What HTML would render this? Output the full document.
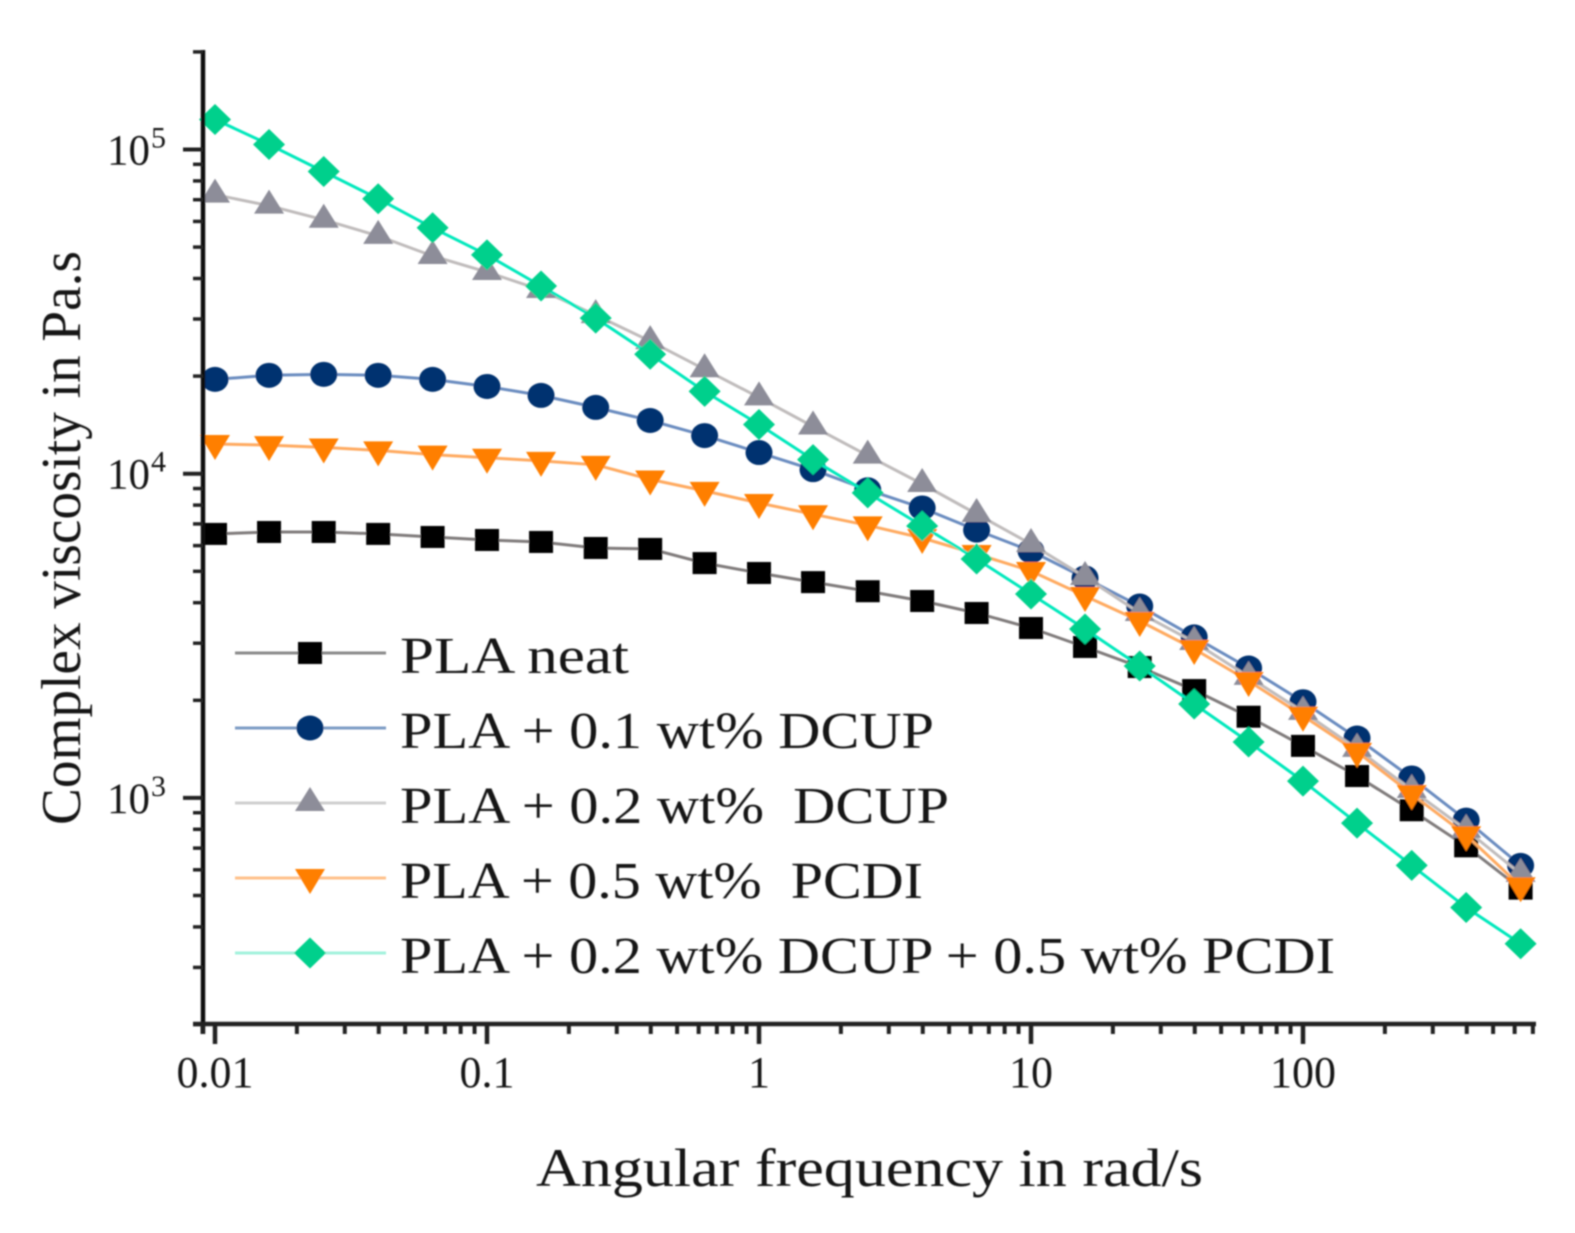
<!DOCTYPE html>
<html lang="en">
<head>
<meta charset="utf-8">
<title>Complex viscosity vs angular frequency</title>
<style>
html,body{margin:0;padding:0;background:#fff;}
svg{display:block;}
text{font-family:"Liberation Serif",serif;fill:#161616;}
</style>
</head>
<body>
<svg id="chart" xmlns="http://www.w3.org/2000/svg" width="1575" height="1233" viewBox="0 0 1575 1233">
  <defs>
    <filter id="soft" x="-2%" y="-2%" width="104%" height="104%"><feGaussianBlur stdDeviation="0.9"/></filter>
  </defs>
  <rect width="1575" height="1233" fill="#fff"/>
  <g id="root" filter="url(#soft)">
    <g id="series-layer"></g>
    <g id="axes-layer"></g>
    <text transform="translate(80,825) rotate(-90)" font-size="56" textLength="574" lengthAdjust="spacingAndGlyphs">Complex viscosity in Pa.s</text>
    <text x="536" y="1186" font-size="54" textLength="667" lengthAdjust="spacingAndGlyphs">Angular frequency in rad/s</text>
    <g id="legend-layer"></g>
  </g>
</svg>
<script>
const frequencies = [0.01,0.0158,0.0251,0.0398,0.0631,0.1,0.158,0.251,0.398,0.631,1,1.58,2.51,3.98,6.31,10,15.8,25.1,39.8,63.1,100,158,251,398,631];
const plaNeat = [6520,6610,6610,6520,6380,6245,6158,5900,5860,5300,4940,4630,4340,4049,3718,3342,2921,2533,2151,1780,1447,1168,916,709,525];
const dcup01 = [19540,20110,20250,20110,19540,18580,17440,16010,14590,13110,11620,10290,8920,7840,6700,5775,4768,3906,3137,2516,1980,1530,1152,854,619];
const dcup02 = [72560,67100,60700,54150,46950,41900,36860,30840,25630,20990,17190,13980,11370,9295,7510,6070,4800,3718,3027,2363,1843,1417,1058,797,583];
const pcdi05 = [12350,12250,12050,11800,11450,11200,10950,10650,9600,8850,8120,7500,6930,6334,5652,5010,4195,3513,2879,2294,1792,1387,1027,767,534];
const dcupPcdi = [123800,103600,85500,70500,57350,47300,37930,30200,23350,17940,14180,11050,8730,6900,5457,4256,3319,2552,1948,1488,1127,836,619,459,355];
const seriesLabels = ["PLA neat","PLA + 0.1 wt% DCUP","PLA + 0.2 wt%  DCUP","PLA + 0.5 wt%  PCDI","PLA + 0.2 wt% DCUP + 0.5 wt% PCDI"];
const xTickValues = [0.01,0.1,1,10,100];
const xTickLabels = ["0.01","0.1","1","10","100"];
const yTickExponents = [3,4,5];

const NS = "http://www.w3.org/2000/svg";
const X0 = 215, X_DECADE = 272;
const Y5 = 149.5, Y_DECADE = 324.2;
const AX_L = 203, AX_R = 1536, AX_T = 52, AX_B = 1024;
function xScale(v){ return X0 + (Math.log10(v) + 2) * X_DECADE; }
function yScale(v){ return Y5 + (5 - Math.log10(v)) * Y_DECADE; }
function mk(tag, parent, attrs){
  const e = document.createElementNS(NS, tag);
  for (const k in attrs) e.setAttribute(k, attrs[k]);
  parent.appendChild(e);
  return e;
}
function markerShape(kind, parent, cx, cy, fill){
  if (kind === "square") return mk("rect", parent, {x:cx-12, y:cy-11, width:24, height:22, fill});
  if (kind === "circle") return mk("ellipse", parent, {cx, cy, rx:13.5, ry:12.5, fill});
  if (kind === "up") return mk("polygon", parent, {points:`${cx},${cy-16} ${cx+15},${cy+8} ${cx-15},${cy+8}`, fill});
  if (kind === "down") return mk("polygon", parent, {points:`${cx-15},${cy-9} ${cx+15},${cy-9} ${cx},${cy+16}`, fill});
  return mk("polygon", parent, {points:`${cx},${cy-15.5} ${cx+16},${cy} ${cx},${cy+15.5} ${cx-16},${cy}`, fill});
}
const styles = [
  {key:"pla-neat", values:plaNeat, kind:"square", fill:"#000000", line:"#807c7c", legendLine:"#8a8a8a"},
  {key:"dcup-01", values:dcup01, kind:"circle", fill:"#00306f", line:"#6a8cc0", legendLine:"#7d9bc4"},
  {key:"dcup-02", values:dcup02, kind:"up", fill:"#8d8d99", line:"#c0bcbc", legendLine:"#cfcfcf"},
  {key:"pcdi-05", values:pcdi05, kind:"down", fill:"#ff7f00", line:"#ffaa60", legendLine:"#ffc18a"},
  {key:"dcup-pcdi", values:dcupPcdi, kind:"diamond", fill:"#00d08c", line:"#00e8bc", legendLine:"#a0f2dc"}
];

const seriesLayer = document.getElementById("series-layer");
styles.forEach(function(s){
  const g = mk("g", seriesLayer, {});
  
  
  const pts = s.values.map(function(v,i){ return xScale(frequencies[i]).toFixed(1) + "," + yScale(v).toFixed(1); }).join(" ");
  const line = mk("polyline", g, {points:pts, fill:"none", stroke:s.line, "stroke-width":3});
  
  
});
styles.forEach(function(s,idx){
  const g = seriesLayer.children[idx];
  s.values.forEach(function(v,i){
    const m = markerShape(s.kind, g, xScale(frequencies[i]), yScale(v), s.fill);
    
    
  });
});

const axes = document.getElementById("axes-layer");
const yAxisLine = mk("line", axes, {x1:AX_L, x2:AX_L, y1:AX_T-2, y2:AX_B+10, stroke:"#111", "stroke-width":4.5});


const xAxisLine = mk("line", axes, {x1:AX_L-10, x2:AX_R, y1:AX_B, y2:AX_B, stroke:"#222", "stroke-width":4.5});



for (let e = -3; e <= 2; e++){
  for (let m = 1; m <= 9; m++){
    const v = m * Math.pow(10, e);
    const x = xScale(v);
    if (x < AX_L - 1 || x > AX_R) continue;
    const major = m === 1;
    const t = mk("line", axes, {x1:x, x2:x, y1:AX_B, y2:AX_B + (major ? 20 : 10), stroke:"#222", "stroke-width":major ? 4.5 : 4});
    
    
  }
}
for (let e = 2; e <= 5; e++){
  for (let m = 1; m <= 9; m++){
    const v = m * Math.pow(10, e);
    const y = yScale(v);
    if (y < AX_T - 1 || y > AX_B + 1) continue;
    const major = m === 1;
    const t = mk("line", axes, {x1:AX_L, x2:AX_L - (major ? 20 : 10), y1:y, y2:y, stroke:"#222", "stroke-width":major ? 4 : 3.5});
    
    
  }
}
xTickValues.forEach(function(v,i){
  const t = mk("text", axes, {x:xScale(v), y:AX_B + 63, "font-size":44, "text-anchor":"middle"});
  t.textContent = xTickLabels[i];
  
  
});
yTickExponents.forEach(function(ex){
  const y = yScale(Math.pow(10, ex));
  const t = mk("text", axes, {x:107, y:y + 15, "font-size":43});
  
  
  const base = mk("tspan", t, {});
  base.textContent = "10";
  const sup = mk("tspan", t, {"font-size":30, dy:-17, dx:1});
  sup.textContent = String(ex);
});

const legendLayer = document.getElementById("legend-layer");
const legendRowY = function(i){ return 653 + i * 75; };
const legendTextEnds = [629, 934, 949, 923, 1335];
styles.forEach(function(s,i){
  const y = legendRowY(i);
  const g = mk("g", legendLayer, {});
  
  
  const l = mk("line", g, {x1:235, x2:386, y1:y, y2:y, stroke:s.legendLine, "stroke-width":3});
  
  
  const m = markerShape(s.kind, g, 310, y, s.fill);
  
  
  const t = mk("text", g, {x:400, y:y + 20, "font-size":52, textLength:legendTextEnds[i] - 400, lengthAdjust:"spacingAndGlyphs"});
  t.style.whiteSpace = "pre";
  t.textContent = seriesLabels[i];
  
  
});
</script>
</body>
</html>
